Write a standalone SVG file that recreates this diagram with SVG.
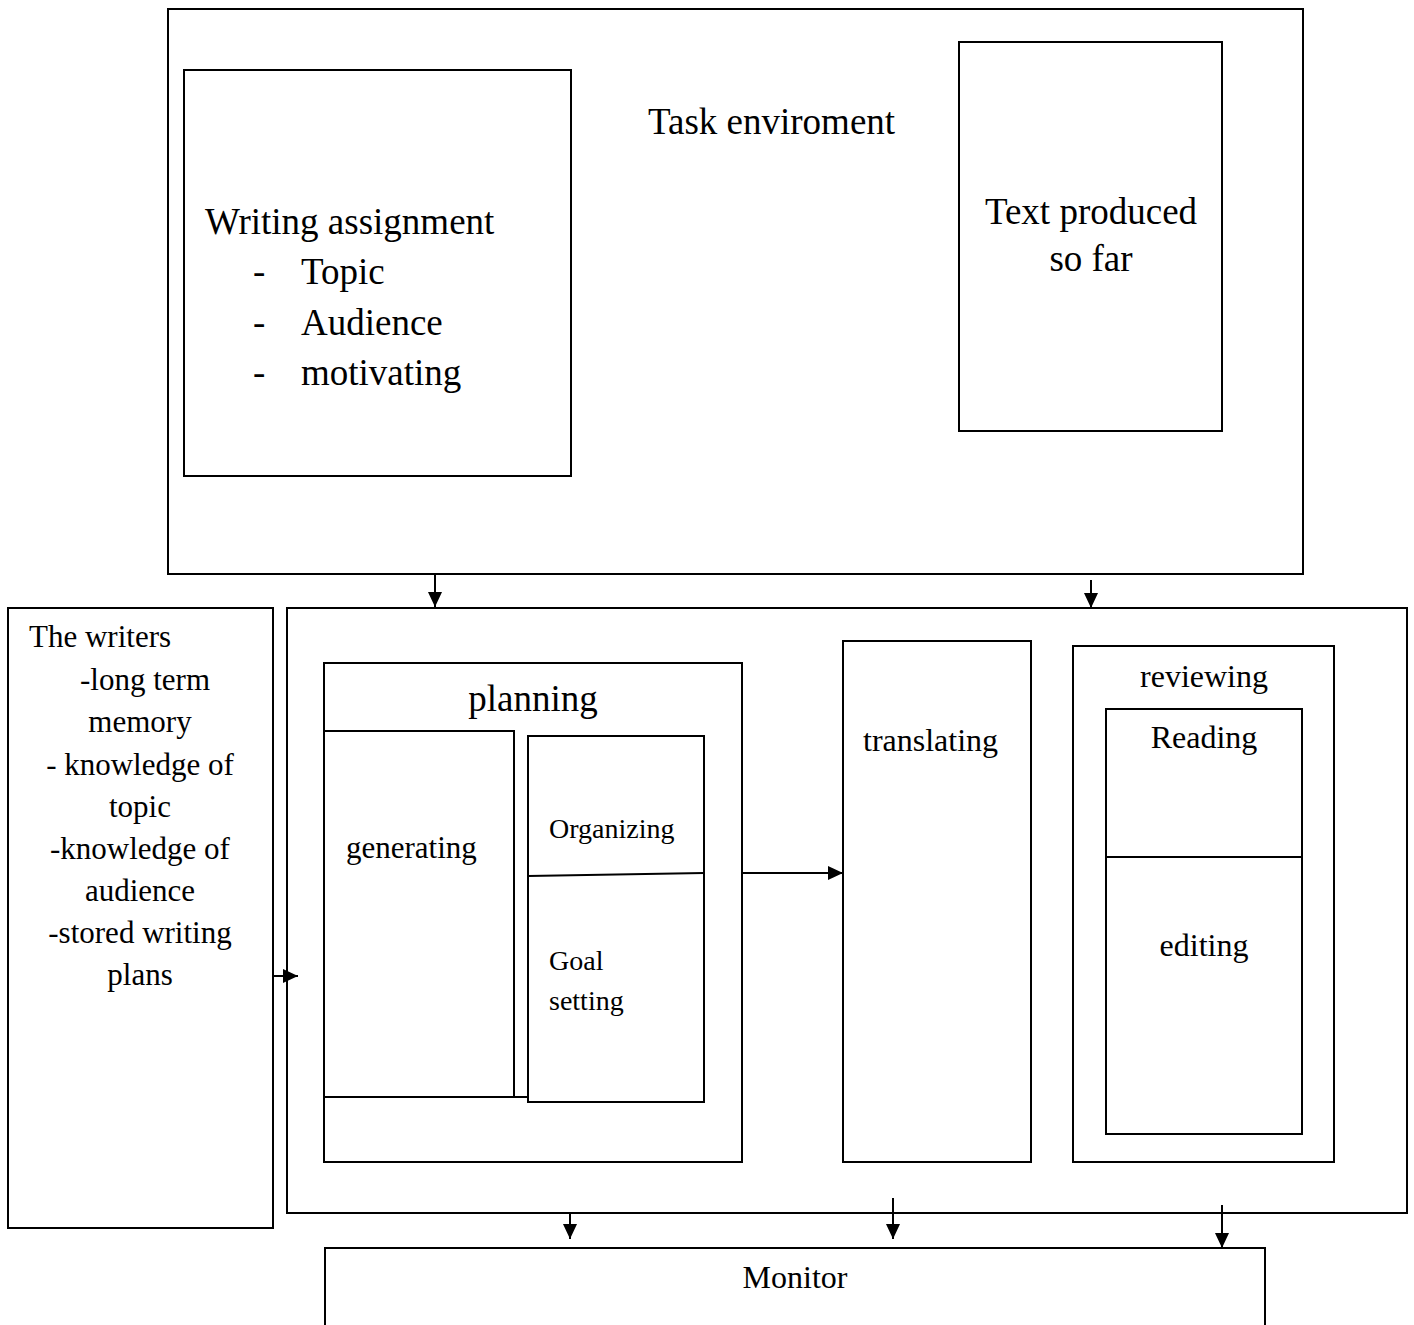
<svg xmlns="http://www.w3.org/2000/svg" width="1414" height="1325" viewBox="0 0 1414 1325">
  <style>
    .box { fill: none; stroke: #000; stroke-width: 2; }
    .ln { fill: none; stroke: #000; stroke-width: 2; }
    .conn { fill: none; stroke: #000; stroke-width: 2; marker-end: url(#head); }
    text { font-family: "Liberation Serif", "Times New Roman", serif; fill: #000; }
    .t37 { font-size: 37px; }
    .t32 { font-size: 32px; }
    .t31 { font-size: 31px; }
    .t28 { font-size: 28px; }
    .mid { text-anchor: middle; }
  </style>
  <defs>
    <marker id="head" viewBox="0 0 15 14" refX="15" refY="7" markerWidth="15" markerHeight="14" markerUnits="userSpaceOnUse" orient="auto">
      <path d="M0,0 L15,7 L0,14 z" fill="#000"/>
    </marker>
  </defs>
  <rect width="1414" height="1325" fill="#fff"/>

  <!-- task environment -->
  <g id="task-environment">
    <rect class="box" x="168" y="9" width="1135" height="565"/>
    <text class="t37" x="648" y="134">Task enviroment</text>
  </g>

  <g id="writing-assignment">
    <rect class="box" x="184" y="70" width="387" height="406"/>
    <text class="t37" x="205" y="234">Writing assignment</text>
    <text class="t37" x="253" y="284">-</text>
    <text class="t37" x="301" y="284">Topic</text>
    <text class="t37" x="253" y="335">-</text>
    <text class="t37" x="301" y="335">Audience</text>
    <text class="t37" x="253" y="385">-</text>
    <text class="t37" x="301" y="385">motivating</text>
  </g>

  <g id="text-produced">
    <rect class="box" x="959" y="42" width="263" height="389"/>
    <text class="t37 mid" x="1091" y="224">Text produced</text>
    <text class="t37 mid" x="1091" y="271">so far</text>
  </g>

  <!-- long term memory -->
  <g id="writers">
    <rect class="box" x="8" y="608" width="265" height="620"/>
    <text class="t31" x="29" y="647">The writers</text>
    <text class="t31 mid" x="145" y="690">-long term</text>
    <text class="t31 mid" x="140" y="732">memory</text>
    <text class="t31 mid" x="140" y="775">- knowledge of</text>
    <text class="t31 mid" x="140" y="817">topic</text>
    <text class="t31 mid" x="140" y="859">-knowledge of</text>
    <text class="t31 mid" x="140" y="901">audience</text>
    <text class="t31 mid" x="140" y="943">-stored writing</text>
    <text class="t31 mid" x="140" y="985">plans</text>
  </g>

  <!-- writing processes -->
  <g id="processes">
    <rect class="box" x="287" y="608" width="1120" height="605"/>
  </g>

  <g id="planning">
    <rect class="box" x="324" y="663" width="418" height="499"/>
    <text class="t37 mid" x="533" y="711">planning</text>
  </g>

  <g id="generating">
    <rect class="box" x="324" y="731" width="190" height="366"/>
    <line class="ln" x1="514" y1="1097" x2="528" y2="1097"/>
    <text class="t31" x="346" y="858">generating</text>
  </g>

  <g id="organizing-goal-setting">
    <rect class="box" x="528" y="736" width="176" height="366"/>
    <line class="ln" x1="528" y1="876" x2="704" y2="873"/>
    <text class="t28" x="549" y="838">Organizing</text>
    <text class="t28" x="549" y="970">Goal</text>
    <text class="t28" x="549" y="1010">setting</text>
  </g>

  <g id="translating">
    <rect class="box" x="843" y="641" width="188" height="521"/>
    <text class="t32" x="863" y="751">translating</text>
  </g>

  <g id="reviewing">
    <rect class="box" x="1073" y="646" width="261" height="516"/>
    <text class="t32 mid" x="1204" y="687">reviewing</text>
  </g>

  <g id="reading-editing">
    <rect class="box" x="1106" y="709" width="196" height="425"/>
    <line class="ln" x1="1106" y1="857" x2="1302" y2="857"/>
    <text class="t32 mid" x="1204" y="748">Reading</text>
    <text class="t32 mid" x="1204" y="956">editing</text>
  </g>

  <g id="monitor">
    <path class="ln" d="M325,1327 V1248 H1265 V1327"/>
    <text class="t32 mid" x="795" y="1288">Monitor</text>
  </g>

  <!-- connectors -->
  <g id="connectors">
    <line class="conn" x1="435" y1="574" x2="435" y2="607"/>
    <line class="conn" x1="1091" y1="580" x2="1091" y2="608"/>
    <line class="conn" x1="273" y1="976" x2="298" y2="976"/>
    <line class="conn" x1="742" y1="873" x2="843" y2="873"/>
    <line class="conn" x1="570" y1="1213" x2="570" y2="1239"/>
    <line class="conn" x1="893" y1="1198" x2="893" y2="1239"/>
    <line class="conn" x1="1222" y1="1205" x2="1222" y2="1248"/>
  </g>
</svg>
